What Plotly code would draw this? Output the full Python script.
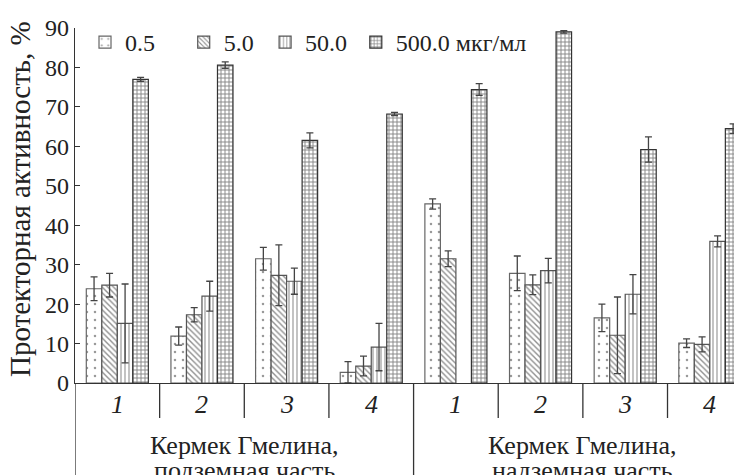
import plotly.graph_objects as go

groups = ["1", "2", "3", "4", "1", "2", "3", "4"]
section_titles = [["Кермек Гмелина,", "подземная часть"], ["Кермек Гмелина,", "надземная часть"]]
series_names = ["0.5", "5.0", "50.0", "500.0 мкг/мл"]

v_05 = [23.9, 11.9, 31.5, 2.7, 45.4, 27.8, 16.5, 10.1]
e_05 = [3.0, 2.3, 2.9, 2.7, 1.3, 4.4, 3.5, 1.1]
v_5 = [24.8, 17.3, 27.3, 4.3, 31.5, 24.9, 12.1, 9.8]
e_5 = [3.0, 1.8, 7.7, 2.5, 2.0, 2.5, 9.7, 1.9]
v_50 = [15.1, 22.0, 25.8, 9.1, None, 28.5, 22.5, 35.9]
e_50 = [10.0, 3.8, 3.3, 6.0, None, 3.1, 5.0, 1.4]
v_500 = [77.0, 80.6, 61.5, 68.2, 74.4, 89.0, 59.2, 64.5]
e_500 = [0.5, 0.8, 1.9, 0.4, 1.5, 0.3, 3.2, 1.2]

values = [v_05, v_5, v_50, v_500]
errors = [e_05, e_5, e_50, e_500]
patterns = [
    dict(shape=".", size=8, solidity=0.08, fgcolor="#333", bgcolor="white"),
    dict(shape="\\", size=4, solidity=0.35, fgcolor="#222", bgcolor="white"),
    dict(shape="|", size=4, solidity=0.3, fgcolor="#333", bgcolor="white"),
    dict(shape="+", size=4, solidity=0.42, fgcolor="#111", bgcolor="white"),
]
line_colors = ["#666", "#555", "#555", "#333"]
legend_ids = ["legend", "legend2", "legend3", "legend4"]
legend_x = [0.015, 0.163, 0.285, 0.421]

FONT = "Liberation Serif"
x = list(range(len(groups)))

fig = go.Figure()
for i in range(4):
    fig.add_trace(go.Bar(
        x=x, y=values[i], name=series_names[i], showlegend=True,
        marker=dict(color="white", pattern=patterns[i], line=dict(color=line_colors[i], width=1.2)),
        error_y=dict(type="data", array=errors[i], color="#444", thickness=1.3, width=3.5),
        legend=legend_ids[i],
    ))

layout_legends = {}
for i, lid in enumerate(legend_ids):
    layout_legends[lid] = dict(
        x=legend_x[i], y=1.0225, xanchor="left", yanchor="top",
        orientation="h", bgcolor="rgba(0,0,0,0)", itemwidth=30,
        font=dict(family=FONT, size=24, color="#222"),
    )

H_PLOT = 355.0
def py(pix):
    return (383.0 - pix) / H_PLOT

shapes = []
for xd in [0.5, 1.5, 2.5, 4.5, 5.5, 6.5]:
    shapes.append(dict(type="line", xref="x", yref="paper", x0=xd, x1=xd, y0=0, y1=py(418),
                       line=dict(color="#333", width=1.3)))
for xd in [-0.5, 3.5]:
    shapes.append(dict(type="line", xref="x", yref="paper", x0=xd, x1=xd, y0=0, y1=py(480),
                       line=dict(color="#333", width=1.3)))

annotations = []
for i, g in enumerate(groups):
    annotations.append(dict(x=i, y=py(405), xref="x", yref="paper", text="<i>" + g + "</i>",
                            showarrow=False, font=dict(family=FONT, size=26, color="#222"),
                            xanchor="center", yanchor="middle"))
for j, (l1, l2) in enumerate(section_titles):
    cx = 1.5 + 4 * j
    annotations.append(dict(x=cx, y=py(445), xref="x", yref="paper", text=l1, showarrow=False,
                            font=dict(family=FONT, size=26, color="#222"), xanchor="center", yanchor="middle"))
    annotations.append(dict(x=cx, y=py(470), xref="x", yref="paper", text=l2, showarrow=False,
                            font=dict(family=FONT, size=26, color="#222"), xanchor="center", yanchor="middle"))
annotations.append(dict(x=(20 - 75) / 667.0, y=py(199), xref="paper", yref="paper",
                        text="Протекторная активность, %", textangle=-90, showarrow=False,
                        font=dict(family=FONT, size=29, color="#222"), xanchor="center", yanchor="middle"))

fig.update_layout(
    width=734, height=467,
    margin=dict(l=67, r=0, t=20, b=92, autoexpand=False),
    plot_bgcolor="white", paper_bgcolor="white",
    barmode="group", bargap=0.267, bargroupgap=0,
    font=dict(family=FONT, size=22, color="#222"),
    xaxis=dict(range=[-0.5, 7.38], showticklabels=False, ticks="", showgrid=False, zeroline=False,
               showline=True, linecolor="#333", linewidth=1.3, mirror=False, automargin=False),
    yaxis=dict(range=[0, 90], dtick=10, ticks="inside", ticklen=5, tickcolor="#333", tickwidth=1.3,
               showgrid=False, zeroline=False, showline=True, linecolor="#333", linewidth=1.3,
               automargin=False, tickfont=dict(family=FONT, size=24, color="#222")),
    shapes=shapes, annotations=annotations,
    **layout_legends,
)

fig.write_html("out.html")
